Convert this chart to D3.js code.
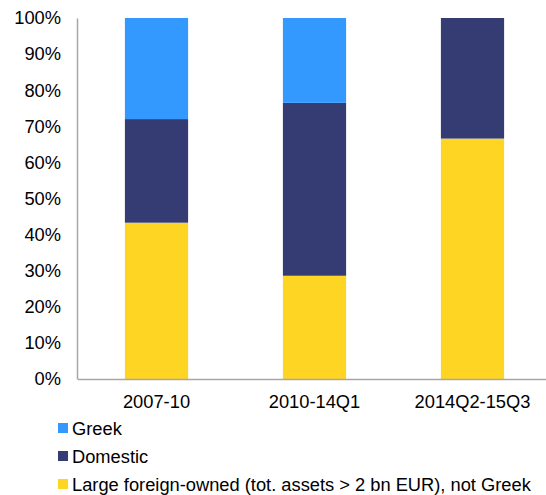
<!DOCTYPE html>
<html lang="en">
<head>
    <meta charset="UTF-8">
    <title>Bank ownership shares</title>
    <script src="https://d3js.org/d3.v7.min.js"></script>
    <style>
        body {
            margin: 0;
            background: #ffffff;
            font-family: Arial, "Liberation Sans", sans-serif;
        }
        svg text {
            fill: #000;
        }
    </style>
</head>
<body>
    <svg id="chart" width="546" height="495"></svg>

    <script>
        // data
        const periods = ["2007-10", "2010-14Q1", "2014Q2-15Q3"];
        const foreignLarge = [43.3, 28.6, 66.6];
        const domestic = [28.7, 47.9, 33.4];
        const greek = [28.0, 23.5, 0];
        const yTicks = [0, 10, 20, 30, 40, 50, 60, 70, 80, 90, 100];

        const seriesNames = ["Large foreign-owned (tot. assets > 2 bn EUR), not Greek", "Domestic", "Greek"];
        const seriesKeys = ["foreign", "domestic", "greek"];
        const colors = { foreign: "#FFD523", domestic: "#353C74", greek: "#3399FF" };
        const fontSize = "18.3px";

        const rows = periods.map((p, i) => ({
            period: p,
            foreign: foreignLarge[i],
            domestic: domestic[i],
            greek: greek[i]
        }));

        const svg = d3.select("#chart");
        const margin = { left: 77, top: 18, bottom: 379 };

        const x = d3.scaleBand()
            .domain(periods)
            .range([77.5, 551.5])
            .paddingInner(0.6)
            .paddingOuter(0.3);

        const y = d3.scaleLinear()
            .domain([0, 100])
            .range([margin.bottom, margin.top]);

        const layers = d3.stack().keys(seriesKeys)(rows);

        svg.append("g")
            .selectAll("g")
            .data(layers)
            .join("g")
            .attr("fill", d => colors[d.key])
            .selectAll("rect")
            .data(d => d)
            .join("rect")
            .attr("x", d => x(d.data.period))
            .attr("width", x.bandwidth())
            .attr("y", d => y(d[1]))
            .attr("height", d => y(d[0]) - y(d[1]));

        // y axis
        const yAxis = svg.append("g")
            .attr("transform", `translate(${margin.left},0)`)
            .call(d3.axisLeft(y).tickValues(yTicks).tickSize(0).tickPadding(16).tickFormat(d => d + "%"));
        yAxis.select(".domain").attr("stroke", "#a6a6a6").attr("stroke-width", 1.5);
        yAxis.selectAll("text")
            .style("font-size", fontSize)
            .style("font-family", "Arial, 'Liberation Sans', sans-serif");

        // x axis
        const xAxis = svg.append("g")
            .attr("transform", `translate(0,${margin.bottom})`)
            .call(d3.axisBottom(x).tickSize(0).tickPadding(16));
        xAxis.select(".domain").attr("stroke", "#a6a6a6").attr("stroke-width", 1.5);
        xAxis.selectAll("text")
            .style("font-size", fontSize)
            .style("font-family", "Arial, 'Liberation Sans', sans-serif");

        // legend, greek on top
        const legendOrder = [2, 1, 0];
        const legend = svg.append("g")
            .selectAll("g")
            .data(legendOrder)
            .join("g")
            .attr("transform", (d, i) => `translate(58,${428 + i * 28})`);

        legend.append("rect")
            .attr("x", 0)
            .attr("y", -5)
            .attr("width", 10)
            .attr("height", 10)
            .attr("fill", d => colors[seriesKeys[d]]);

        legend.append("text")
            .attr("x", 14)
            .attr("y", 6.5)
            .style("font-size", fontSize)
            .text(d => seriesNames[d]);
    </script>
</body>
</html>
